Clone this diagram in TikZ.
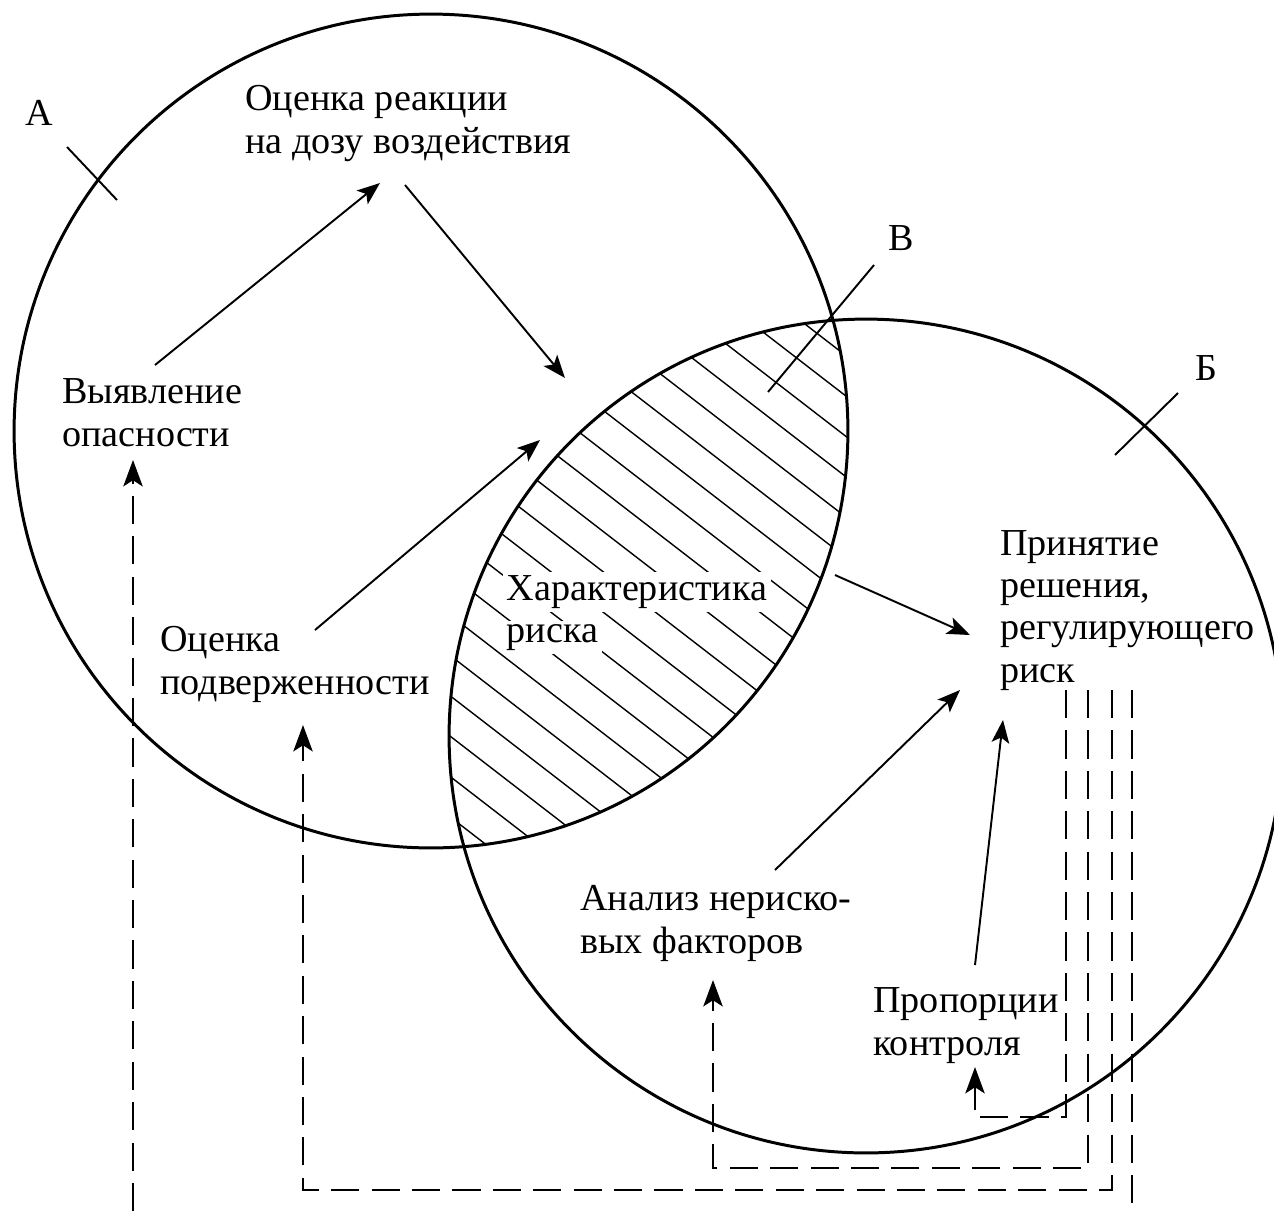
\documentclass[tikz,border=0pt]{standalone}
\usepackage{fontspec}
\setmainfont{Liberation Serif}
\usetikzlibrary{arrows.meta,calc}

\tikzset{
  txt/.style={anchor=base west, align=left, inner sep=0pt, font=\fontsize{21.7}{24}\selectfont},
  arr/.style={-{Stealth[length=13pt,width=10pt,inset=3pt]}, line width=1.1pt},
  darr/.style={-{Stealth[length=15pt,width=11pt,inset=3.5pt]}, line width=1.4pt, dash pattern=on 16pt off 7pt},
  dline/.style={line width=1.4pt, dash pattern=on 16pt off 7pt},
  ring/.style={line width=1.7pt},
  tick/.style={line width=1.1pt},
  hatch/.style={line width=0.8pt},
}

\begin{document}
\begin{tikzpicture}[x=0.02cm,y=-0.02cm]
    \useasboundingbox (0,0) rectangle (1274,1211);
    % Centre of the two rings
    \coordinate (cA) at (431,431);
    \coordinate (cB) at (866,736);
    \def\rad{8.34cm}
    % Hatched overlap
    \begin{scope}
      \clip (cA) circle (\rad);
      \clip (cB) circle (\rad);
      \foreach \k in {-8,...,20}
        \draw[hatch] ({658-19.5*\k-553},{372+25.3*\k-427}) -- ({658-19.5*\k+553},{372+25.3*\k+427});
    \end{scope}
    % Rings
    \draw[ring] (cA) circle (\rad);
    \draw[ring] (cB) circle (\rad);
    % Marks and letters
    \draw[tick] (67,147) -- (117,200);
    \draw[tick] (874,265) -- (768,392);
    \draw[tick] (1178,393) -- (1115,455);
    \node[txt] (labA) at (25,125) {А};
    \node[txt] (labV) at (888,250) {В};
    \node[txt] (labB) at (1195,380) {Б};
    % Texts (base = last line)
    \node[txt] (dose) at (245,153) {Оценка реакции\\на дозу воздействия};
    \node[txt] (hazard) at (62,446) {Выявление\\опасности};
    \node[txt] (exposure) at (160,694) {Оценка\\подверженности};
    \node[txt,fill=white,inner sep=2pt] (riskchar) at (503,600) {Характеристика};
    \node[txt,fill=white,inner sep=2pt] (riskchar2) at (503,642) {риска};
    \node[txt] (decision) at (1000,682) {Принятие\\решения,\\регулирующего\\риск};
    \node[txt] (nonrisk) at (580,953) {Анализ нериско-\\вых факторов};
    \node[txt] (control) at (873,1055) {Пропорции\\контроля};
    % Ends of the solid arrows
    \coordinate (hazard-out) at (155,365);
    \coordinate (dose-in) at (380,183);
    \coordinate (dose-out) at (405,185);
    \coordinate (char-in1) at (565,378);
    \coordinate (exposure-out) at (315,630);
    \coordinate (char-in2) at (540,440);
    \coordinate (char-out) at (835,575);
    \coordinate (decision-in1) at (970,635);
    \coordinate (nonrisk-out) at (775,870);
    \coordinate (decision-in2) at (960,690);
    \coordinate (control-out) at (975,965);
    \coordinate (decision-in3) at (1003,720);
    \draw[arr] (hazard-out) -- (dose-in);
    \draw[arr] (dose-out) -- (char-in1);
    \draw[arr] (exposure-out) -- (char-in2);
    \draw[arr] (char-out) -- (decision-in1);
    \draw[arr] (nonrisk-out) -- (decision-in2);
    \draw[arr] (control-out) -- (decision-in3);
    % Dashed feedback lines
    \coordinate (fb0) at (133,1211);
    \coordinate (hazard-in) at (133,460);
    \draw[darr] (fb0) -- (hazard-in);
    \coordinate (fb1) at (1112,690);
    \coordinate (exposure-in) at (303,725);
    \draw[darr] (fb1) |- (303,1190) -- (exposure-in);
    \coordinate (fb2) at (1088,690);
    \coordinate (nonrisk-in) at (713,980);
    \draw[darr] (fb2) |- (713,1168) -- (nonrisk-in);
    \coordinate (fb3) at (1066,690);
    \coordinate (control-in) at (975,1067);
    \draw[darr] (fb3) |- (975,1117) -- (control-in);
    \coordinate (fb4) at (1132,690);
    \draw[dline] (fb4) -- (1132,1211);
\end{tikzpicture}
\end{document}
